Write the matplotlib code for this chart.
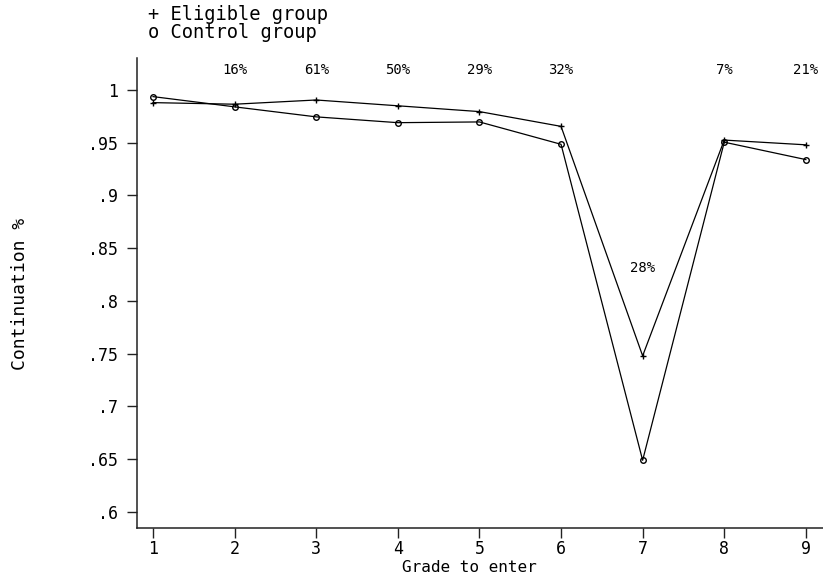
import matplotlib.pyplot as plt
import numpy as np

# ------------------------------------------------------------------
# Data
# ------------------------------------------------------------------
grades = [1, 2, 3, 4, 5, 6, 7, 8, 9]
eligible = [0.988, 0.9865, 0.9905, 0.985, 0.9795, 0.9655, 0.748, 0.9525, 0.948]
control = [0.9937, 0.984, 0.9745, 0.969, 0.9697, 0.9485, 0.649, 0.9505, 0.934]

pct_grades = [2, 3, 4, 5, 6, 7, 8, 9]
pct_labels = ['16%', '61%', '50%', '29%', '32%', '28%', '7%', '21%']
pct_y = [1.019, 1.019, 1.019, 1.019, 1.019, 0.831, 1.019, 1.019]

yticks = [0.6, 0.65, 0.7, 0.75, 0.8, 0.85, 0.9, 0.95, 1.0]
ytick_labels = ['.6', '.65', '.7', '.75', '.8', '.85', '.9', '.95', '1']

font = 'DejaVu Sans Mono'

# ------------------------------------------------------------------
# Figure layout
# ------------------------------------------------------------------
fig = plt.figure(figsize=(8.23, 5.84), dpi=100)
ax1 = fig.add_axes([137 / 823, 56 / 584, 1 - 137 / 823, 470 / 584])
ax1.set_xlim(0.804, 9.21)
ax1.set_ylim(0.5848, 1.0303)

for axis in ['top', 'right']:
    ax1.spines[axis].set_visible(False)
for axis in ['left', 'bottom']:
    ax1.spines[axis].set_linewidth(1.1)
    ax1.spines[axis].set_color('#222222')

ax1.set_xticks(grades)
ax1.set_xticklabels([str(g) for g in grades], fontfamily=font, fontsize=12)
ax1.set_yticks(yticks)
ax1.set_yticklabels(ytick_labels, fontfamily=font, fontsize=12)
ax1.tick_params(axis='both', direction='out', length=7.5, width=1.0, color='#222222')
ax1.tick_params(axis='y', pad=6)
ax1.tick_params(axis='x', pad=1)

fig.text(469 / 823, 1 - 567 / 584, 'Grade to enter', fontfamily=font, fontsize=11.5,
         ha='center', va='center')
fig.text(20 / 823, 1 - 294 / 584, 'Continuation %', rotation=90, fontfamily=font,
         fontsize=13, ha='center', va='center')

# ------------------------------------------------------------------
# Lines
# ------------------------------------------------------------------
ax1.plot(grades, eligible, c='k', lw=0.9, marker='+', ms=5, mew=1.0)
ax1.plot(grades, control, c='k', lw=0.9, marker='o', ms=4, mfc='none', mew=1.0)

# percentage labels
for g, lab, yy in zip(pct_grades, pct_labels, pct_y):
    ax1.text(g, yy, lab, fontfamily=font, fontsize=10, ha='center', va='center')

# key at the top left
fig.text(148 / 823, 1 - 15 / 584, '+ Eligible group', fontfamily=font, fontsize=13.5,
         ha='left', va='center')
fig.text(148 / 823, 1 - 33 / 584, 'o Control group', fontfamily=font, fontsize=13.5,
         ha='left', va='center')

plt.savefig('out.png', dpi=100)
